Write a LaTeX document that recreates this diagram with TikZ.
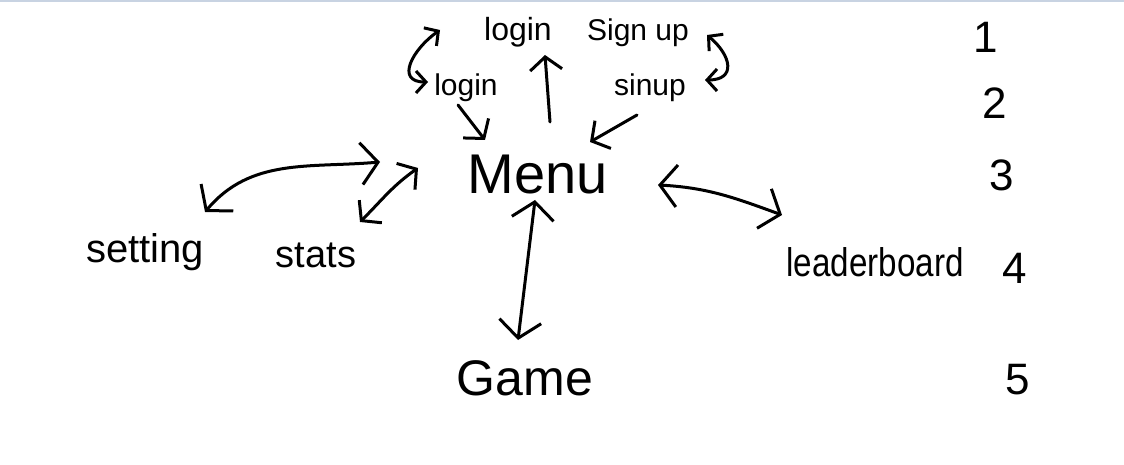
\documentclass[tikz,border=0pt]{standalone}
\usepackage{fontspec}
\setmainfont{Liberation Sans}
\usetikzlibrary{arrows.meta}
\definecolor{topline}{RGB}{200,211,226}
\tikzset{
  hb/.tip={Straight Barb[length=17pt,width=42pt]},
  mb/.tip={Straight Barb[length=13pt,width=32pt]},
  sb/.tip={Straight Barb[length=10pt,width=22pt]},
}
\begin{document}
\begin{tikzpicture}[x=1pt,y=1pt,
  hand/.style={line width=3pt, line cap=round, line join=round},
  lbl/.style={inner sep=0pt, font=\fontsize{#1}{#1}\selectfont},
]
\fill[white] (0,0) rectangle (1124,464);
\fill[topline] (0,462) rectangle (1124,464);
\useasboundingbox (0,0) rectangle (1124,464);

\node[lbl=32] (loginA) at (518,432) {login};
\node[lbl=30] (signup) at (638,431) {Sign up};
\node[lbl=30] (loginB) at (466,376) {login};
\node[lbl=30] (sinup) at (650,376) {sinup};
\node[lbl=56] (menu) at (538,289) {Menu};
\node[lbl=40] (setting) at (145,212) {setting};
\node[lbl=38] (stats) at (316,209) {stats};
\node[lbl=40] (leader) at (875,202) {\scalebox{0.83}[1]{leaderboard}};
\node[lbl=50] (game) at (525,86) {Game};

\node[lbl=44] (n1) at (986,427) {1};
\node[lbl=44] (n2) at (995,361) {2};
\node[lbl=44] (n3) at (1002,289) {3};
\node[lbl=44] (n4) at (1015,196) {4};
\node[lbl=44] (n5) at (1018,84) {5};

\draw[hand,-mb] ([shift={(12,53)}]menu.center) -- ([shift={(27,-23)}]loginA.center);
\draw[hand,-mb] ([shift={(-8,-17)}]loginB.center) -- ([shift={(-53,35)}]menu.center);
\draw[hand,-mb] ([shift={(-13,-27)}]sinup.center) -- ([shift={(52,33)}]menu.center);
\draw[hand,hb-hb] ([shift={(-3,-25)}]menu.center) -- ([shift={(-7,38)}]game.center);
\draw[hand,hb-hb] ([shift={(120,-10)}]menu.center) to[out=-3,in=160] ([shift={(-93,47)}]leader.center);
\draw[hand,hb-hb] ([shift={(60,40)}]setting.center) to[out=50,in=185] ([shift={(-158,13)}]menu.center);
\draw[hand,mb-mb] ([shift={(44,33)}]stats.center) to[out=45,in=215] ([shift={(-120,7)}]menu.center);
\draw[hand,sb-sb] ([shift={(-78,2)}]loginA.center) to[out=215,in=180,looseness=1.6] ([shift={(-38,6)}]loginB.center);
\draw[hand,sb-sb] ([shift={(69,-2)}]signup.center) to[out=-40,in=0,looseness=1.8] ([shift={(55,8)}]sinup.center);
\end{tikzpicture}
\end{document}
